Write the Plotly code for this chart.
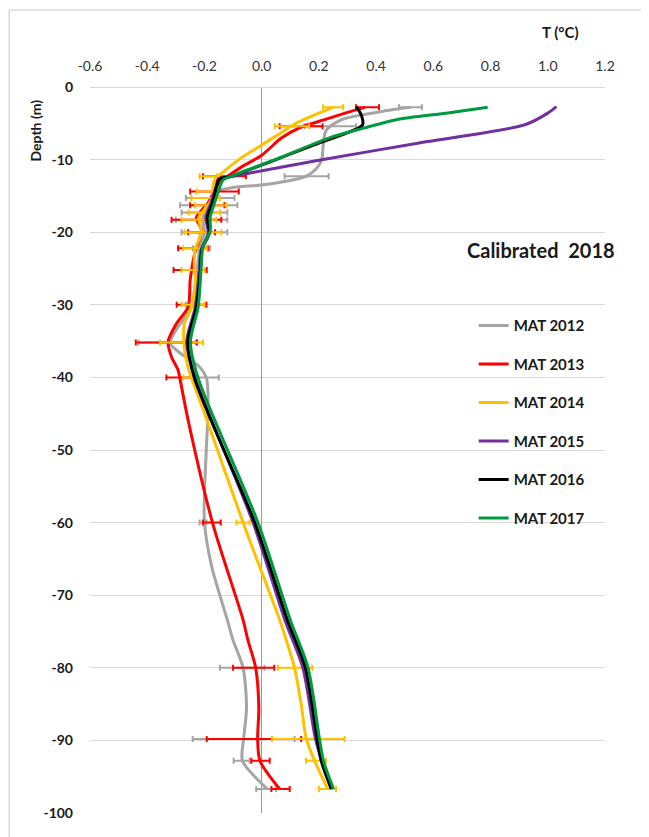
import plotly.graph_objects as go

# depth (m) and temperature (degC), one pair of arrays per profile
depth_2012 = [-2.8, -3.5, -4.5, -6, -8, -10, -11.3, -12.3, -13.4, -13.9, -14.5, -16, -18, -20, -22, -25,
              -30, -33.5, -35.3, -36.5, -38.6, -40.1, -43.6, -49.5, -56, -60, -66, -73.4, -76.2, -80,
              -85.5, -89.8, -92.8, -96.7]
temp_2012 = [0.52, 0.40, 0.28, 0.225, 0.215, 0.21, 0.19, 0.155, 0.02, -0.11, -0.165, -0.18, -0.205, -0.2,
             -0.215, -0.225, -0.24, -0.3, -0.32, -0.29, -0.216, -0.193, -0.187, -0.193, -0.2, -0.2, -0.175,
             -0.12, -0.1, -0.065, -0.053, -0.063, -0.067, 0.02]

depth_2013 = [-2.8, -3.5, -4.5, -5.5, -7, -9.4, -11, -12.3, -12.9, -13.7, -16, -18, -19.7, -22.9, -25.2,
              -26.6, -30.3, -32.6, -35.1, -37.2, -39, -40.1, -45.9, -60, -73.4, -76.2, -80, -85.5,
              -89.8, -92.8, -96.7]
temp_2013 = [0.36, 0.30, 0.22, 0.14, 0.07, 0.0, -0.07, -0.12, -0.145, -0.158, -0.188, -0.228, -0.21,
             -0.234, -0.245, -0.25, -0.257, -0.298, -0.327, -0.315, -0.292, -0.286, -0.257,
             -0.172, -0.065, -0.048, -0.021, -0.01, -0.014, -0.006, 0.063]

depth_2014 = [-2.8, -3.6, -5.0, -6.5, -8, -10, -12.1, -12.8, -13.8, -15.1, -16.9, -18, -20, -22.4, -25,
              -26.6, -30.3, -32.6, -35.1, -38.5, -40.1, -46, -60, -73.4, -76.2, -80, -85,
              -89.8, -92.8, -96.7]
temp_2014 = [0.25, 0.2, 0.12, 0.06, 0.0, -0.08, -0.146, -0.165, -0.17, -0.17, -0.2, -0.22, -0.21, -0.233,
             -0.235, -0.232, -0.245, -0.27, -0.272, -0.258, -0.245, -0.19, -0.065, 0.063, 0.086,
             0.115, 0.138, 0.156, 0.185, 0.231]

depth_2015 = [-2.7, -3.6, -5.2, -7.7, -10.1, -12.35, -12.7, -13.8, -16, -18, -20.1, -22.5, -25.2, -30.3,
              -35.1, -40.1, -60, -73.4, -80, -89.8, -92.8, -96.7]
temp_2015 = [1.03, 1.0, 0.92, 0.55, 0.2, -0.11, -0.152, -0.16, -0.178, -0.195, -0.187, -0.212, -0.218,
             -0.232, -0.262, -0.232, -0.03, 0.081, 0.144, 0.188, 0.21, 0.245]

depth_2016 = [-2.7, -3.6, -4.5, -5.2, -5.7, -8.2, -10.3, -12.35, -12.7, -13.8, -16, -18, -20.1, -22.3,
              -25.2, -30.3, -35.1, -40.1, -60, -73.4, -80, -89.8, -92.8, -96.7]
temp_2016 = [0.33, 0.345, 0.353, 0.353, 0.336, 0.168, 0.03, -0.11, -0.148, -0.158, -0.172, -0.19, -0.183,
             -0.208, -0.214, -0.228, -0.258, -0.235, -0.024, 0.09, 0.153, 0.194, 0.208, 0.243]

depth_2017 = [-2.8, -3.6, -4.5, -5.7, -7.0, -9.8, -12.35, -12.8, -14.6, -16, -17.9, -19.8, -22, -25.2,
              -30.3, -35.1, -40.1, -60, -73.4, -80, -89.8, -92.8, -96.7]
temp_2017 = [0.79, 0.644, 0.47, 0.353, 0.237, 0.06, -0.11, -0.135, -0.153, -0.165, -0.18, -0.18, -0.205,
             -0.212, -0.222, -0.249, -0.222, -0.013, 0.1, 0.162, 0.202, 0.216, 0.251]

# measured points with their +/- error (2012-2014 only)
err_depth_2012 = [-2.8, -5.4, -12.3, -15.3, -16.3, -17.3, -18.3, -20, -22.2, -30, -35.2, -40, -60, -80,
                  -89.8, -92.8, -96.7]
err_temp_2012 = [0.52, 0.24, 0.157, -0.18, -0.185, -0.2, -0.21, -0.2, -0.21, -0.23, -0.33, -0.19, -0.205,
                 -0.068, -0.063, -0.07, 0.016]
err_size_2012 = [0.04, 0.09, 0.077, 0.085, 0.1, 0.08, 0.09, 0.08, 0.03, 0.035, 0.1, 0.04, 0.012, 0.078,
                 0.178, 0.028, 0.035]

err_depth_2013 = [-2.8, -5.4, -12.3, -14.4, -16.3, -18.3, -20, -22.2, -25.2, -30, -35.2, -40, -60, -80,
                  -89.8, -92.8, -96.7]
err_temp_2013 = [0.37, 0.138, -0.13, -0.165, -0.19, -0.228, -0.21, -0.24, -0.25, -0.245, -0.333, -0.286,
                 -0.174, -0.028, -0.027, -0.004, 0.066]
err_size_2013 = [0.04, 0.075, 0.075, 0.085, 0.06, 0.087, 0.047, 0.052, 0.058, 0.052, 0.107, 0.047, 0.031,
                 0.072, 0.165, 0.032, 0.032]

err_depth_2014 = [-2.8, -5.4, -12.3, -14.4, -15.3, -16.3, -17.3, -18.3, -20, -22.2, -25.2, -30, -35.2,
                  -40, -60, -80, -89.8, -92.8, -96.7]
err_temp_2014 = [0.25, 0.106, -0.187, -0.2, -0.196, -0.178, -0.2, -0.219, -0.205, -0.233, -0.24, -0.24,
                 -0.28, -0.258, -0.065, 0.117, 0.163, 0.19, 0.23]
err_size_2014 = [0.035, 0.06, 0.03, 0.027, 0.05, 0.055, 0.055, 0.061, 0.064, 0.041, 0.04, 0.04, 0.075,
                 0.016, 0.023, 0.06, 0.127, 0.035, 0.03]

x_tick_vals = [-0.6, -0.4, -0.2, 0.0, 0.2, 0.4, 0.6, 0.8, 1.0, 1.2]
x_tick_text = ['-0.6', '-0.4', '-0.2', '0.0', '0.2', '0.4', '0.6', '0.8', '1.0', '1.2']
y_tick_vals = [0, -10, -20, -30, -40, -50, -60, -70, -80, -90, -100]
y_tick_text = ['0', '-10', '-20', '-30', '-40', '-50', '-60', '-70', '-80', '-90', '-100']

FONT = 'Lato'
series = [
    ('MAT 2012', '#a5a5a5', temp_2012, depth_2012, (err_temp_2012, err_depth_2012, err_size_2012)),
    ('MAT 2013', '#ff0000', temp_2013, depth_2013, (err_temp_2013, err_depth_2013, err_size_2013)),
    ('MAT 2014', '#ffc000', temp_2014, depth_2014, (err_temp_2014, err_depth_2014, err_size_2014)),
    ('MAT 2015', '#7030a0', temp_2015, depth_2015, None),
    ('MAT 2016', '#000000', temp_2016, depth_2016, None),
    ('MAT 2017', '#009a3e', temp_2017, depth_2017, None),
]

fig = go.Figure()
for name, color, xs, ys, errs in series:
    fig.add_trace(go.Scatter(
        x=xs, y=ys, name=name, legendgroup=name, mode='lines',
        line=dict(color=color, width=3, shape='spline', smoothing=0.8),
    ))
    if errs is not None:
        ex, ey, es = errs
        fig.add_trace(go.Scatter(
            x=ex, y=ey, legendgroup=name, showlegend=False, mode='markers',
            marker=dict(size=1, color=color),
            error_x=dict(type='data', array=es, color=color, thickness=2, width=3),
        ))

# the page body adds an 8px offset, margins compensate for it
fig.update_layout(
    width=649, height=837,
    margin=dict(l=82, r=52, t=79, b=32),
    paper_bgcolor='white', plot_bgcolor='white',
    font=dict(family=FONT, color='#1a1a1a'),
    showlegend=True,
    legend=dict(
        x=0.745, y=0.694, xanchor='left', yanchor='top',
        traceorder='grouped', tracegroupgap=16,
        font=dict(family=FONT, size=15, weight='bold', color='#1a1a1a'),
        bgcolor='rgba(0,0,0,0)', itemwidth=30,
    ),
    xaxis=dict(
        side='top', range=[-0.6, 1.2], tickvals=x_tick_vals, ticktext=x_tick_text,
        showgrid=False, zeroline=True, zerolinecolor='#9a9a9a', zerolinewidth=1,
        showline=False, ticks='', ticklabelstandoff=12,
        tickfont=dict(family=FONT, size=14, color='#333333'),
    ),
    yaxis=dict(
        range=[-100, 0], tickvals=y_tick_vals, ticktext=y_tick_text,
        showgrid=True, gridcolor='#d9d9d9', gridwidth=1,
        zeroline=True, zerolinecolor='#d9d9d9', zerolinewidth=1,
        showline=False, ticks='', ticklabelstandoff=16,
        tickfont=dict(family=FONT, size=14, weight='bold', color='#1a1a1a'),
    ),
    shapes=[dict(type='rect', xref='paper', yref='paper', x0=-0.157, x1=1.078, y0=-0.04, y1=1.106,
                 line=dict(color='#c8c8c8', width=1), fillcolor='rgba(0,0,0,0)', layer='below')],
    annotations=[
        dict(text='T (°C)', xref='paper', yref='paper', x=0.913, y=1.076, showarrow=False,
             xanchor='center', yanchor='middle',
             font=dict(family=FONT, size=15, weight='bold', color='#1a1a1a')),
        dict(text='Depth (m)', xref='paper', yref='paper', x=-0.105, y=0.94, textangle=-90,
             xanchor='center', yanchor='middle',
             showarrow=False, font=dict(family=FONT, size=14, weight='bold', color='#1a1a1a')),
        dict(text='Calibrated  2018', xref='paper', yref='paper', x=0.876, y=0.7755, showarrow=False,
             xanchor='center', yanchor='middle',
             font=dict(family=FONT, size=20, weight='bold', color='#1a1a1a')),
    ],
)

fig.write_html('out.html')
